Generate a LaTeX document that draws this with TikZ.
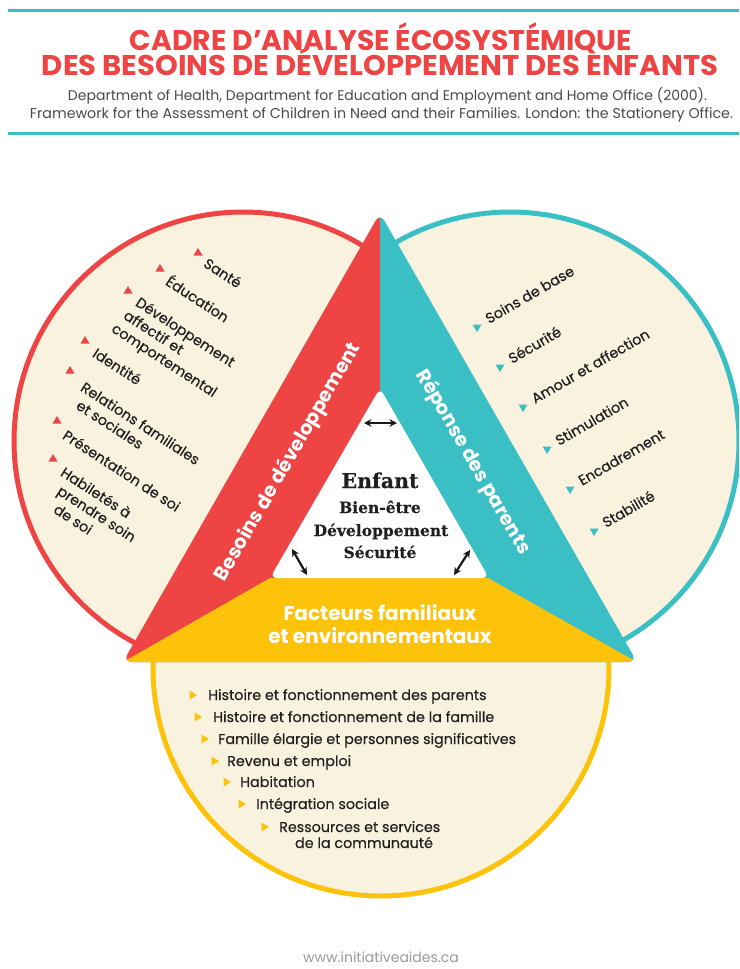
\documentclass[tikz,border=0pt]{standalone}
\usepackage{fontspec}
\setmainfont{Poppins}
\newfontfamily\slab{DejaVu Serif}[BoldFeatures={FakeBold=0.4}]
\newfontfamily\itemfont{Poppins}[FakeBold=0.35]
\usetikzlibrary{arrows.meta}
\definecolor{cred}{HTML}{EE4444}
\definecolor{cteal}{HTML}{3ABFC5}
\definecolor{cyel}{HTML}{FDC20A}
\definecolor{ccream}{HTML}{F8F2DE}
\definecolor{ctext}{HTML}{231F20}
\definecolor{cgray}{HTML}{4A4A4A}
\definecolor{cfoot}{HTML}{9A9A9A}
\tikzset{
  bup/.pic={\fill[cred] (-4.5,3.5) -- (4.5,3.5) -- (0,-4) -- cycle;},
  bdown/.pic={\fill[cteal] (-4.5,-3.5) -- (4.5,-3.5) -- (0,4) -- cycle;},
  bright/.pic={\fill[cyel] (-3.5,-4.5) -- (-3.5,4.5) -- (4,0) -- cycle;},
  itemtxt/.style={font=\itemfont\fontsize{14.3}{17}\selectfont, text=ctext, anchor=base west, inner sep=0pt},
  litem/.style={itemtxt, rotate=-33},
  ritem/.style={itemtxt, rotate=30},
  bitem/.style={itemtxt},
  bandtxt/.style={font=\bfseries\fontsize{19.5}{24}\selectfont, text=white, inner sep=0pt, align=center},
  ctr/.style={font=\slab\bfseries\fontsize{15.5}{18}\selectfont, text=ctext, anchor=base, inner sep=0pt},
  dbl/.style={{Stealth[length=7.5pt,width=7.5pt]}-{Stealth[length=7.5pt,width=7.5pt]}, line width=2.2pt, black!90}
}
\begin{document}
\begin{tikzpicture}[x=1pt,y=-1pt]
\useasboundingbox (0,0) rectangle (739,969);
\fill[white] (0,0) rectangle (739,969);
% header rules
\draw[cteal, line width=3pt] (8,10) -- (739,10);
\draw[cteal, line width=3pt] (8,133) -- (739,133);
% title
\node[anchor=base, inner sep=0pt, text=cred] (t1) at (381,50) {\resizebox{502pt}{20pt}{\bfseries\smash{CADRE D’ANALYSE ÉCOSYSTÉMIQUE}\vphantom{A}}};
\node[anchor=base, inner sep=0pt, text=cred] (t2) at (380,75) {\resizebox{676pt}{20pt}{\bfseries\smash{DES BESOINS DE DÉVELOPPEMENT DES ENFANTS}\vphantom{A}}};
\node[anchor=base, inner sep=0pt, text=cgray] (s1) at (387.5,100) {\resizebox{639pt}{!}{\fontsize{13}{15}\selectfont Department of Health, Department for Education and Employment and Home Office (2000).}};
\node[anchor=base, inner sep=0pt, text=cgray] (s2) at (381.5,118) {\resizebox{703pt}{!}{\fontsize{13}{15}\selectfont Framework for the Assessment of Children in Need and their Families. London: the Stationery Office.}};
% circles
\begin{scope}
  \clip (0,150) rectangle (380,700);
  \draw[cred, fill=ccream, line width=5pt] (243,441) circle[radius=229pt];
\end{scope}
\begin{scope}
  \clip (380,150) rectangle (739,700);
  \draw[cteal, fill=ccream, line width=5pt] (510,441) circle[radius=229pt];
\end{scope}
\begin{scope}
  \clip (0,662) rectangle (739,969);
  \draw[cyel, fill=ccream, line width=5pt] (381,668) circle[radius=228pt];
\end{scope}
% big triangle
\begin{scope}
  \clip[rounded corners=9pt] (380,213) -- (637,662) -- (123,662) -- cycle;
  \fill[cred] (0,150) rectangle (380,720);
  \fill[cteal] (380,150) rectangle (800,720);
  \fill[cyel] (270,578) -- (488,578) -- (720,709) -- (41,709) -- cycle;
\end{scope}
\fill[white, rounded corners=7pt] (380,388) -- (489,578) -- (270,578) -- cycle;
% centre
\node[ctr, font=\slab\bfseries\fontsize{20.5}{22}\selectfont] (enf) at (380,488) {Enfant};
\node[ctr] (c1) at (380,513) {Bien-être};
\node[ctr] (c2) at (381,536) {Développement};
\node[ctr] (c3) at (380,558) {Sécurité};
\coordinate (a1) at (364,423); \coordinate (a2) at (397,423);
\coordinate (a3) at (292,549); \coordinate (a4) at (307,575);
\coordinate (a5) at (470,550); \coordinate (a6) at (454,575);
\draw[dbl] (a1) -- (a2);
\draw[dbl] (a3) -- (a4);
\draw[dbl] (a5) -- (a6);
% band labels
\node[bandtxt, rotate=60] (bes) at (288,462) {Besoins de développement};
\node[bandtxt, rotate=-60] (rep) at (473,462) {Réponse des parents};
\node[bandtxt, font=\bfseries\fontsize{20}{23}\selectfont] (fac) at (380,624) {Facteurs familiaux\\et environnementaux};
% left items
\pic at (198,252) {bup}; \node[litem] (l1) at (202.5,266) {Santé};
\pic at (160,268) {bup}; \node[litem] (l2) at (164.5,284) {Éducation};
\pic at (128,290) {bup}; \node[litem] (l3a) at (134.5,305) {Développement};
\node[litem] (l3b) at (122.5,318) {affectif et};
\node[litem] (l3c) at (110.5,331) {comportemental};
\pic at (85,340) {bup}; \node[litem] (l4) at (91.5,356) {Identité};
\pic at (70,370) {bup}; \node[litem] (l5a) at (79.5,390) {Relations familiales};
\node[litem] (l5b) at (75,408) {et sociales};
\pic at (57,420) {bup}; \node[litem] (l6) at (61.5,438) {Présentation de soi};
\pic at (53,458) {bup}; \node[litem] (l7a) at (59.5,475) {Habiletés à};
\node[litem] (l7b) at (56,493.5) {prendre soin};
\node[litem] (l7c) at (52.5,512) {de soi};
% right items
\pic at (477,328) {bdown}; \node[ritem] (r1) at (489,324) {Soins de base};
\pic at (500,368) {bdown}; \node[ritem] (r2) at (512,364) {Sécurité};
\pic at (523,408) {bdown}; \node[ritem] (r3) at (535,404) {Amour et affection};
\pic at (547,450) {bdown}; \node[ritem] (r4) at (559,446) {Stimulation};
\pic at (570,490) {bdown}; \node[ritem] (r5) at (582,486) {Encadrement};
\pic at (594,532) {bdown}; \node[ritem] (r6) at (606,528) {Stabilité};
% bottom items
\pic at (193,695) {bright}; \node[bitem] (b1) at (208,700) {Histoire et fonctionnement des parents};
\pic at (198,717) {bright}; \node[bitem] (b2) at (213,722) {Histoire et fonctionnement de la famille};
\pic at (205,739) {bright}; \node[bitem] (b3) at (218,744) {Famille élargie et personnes significatives};
\pic at (215,761) {bright}; \node[bitem] (b4) at (227,766) {Revenu et emploi};
\pic at (227,782) {bright}; \node[bitem] (b5) at (240,787) {Habitation};
\pic at (242,804) {bright}; \node[bitem] (b6) at (256,809) {Intégration sociale};
\pic at (265,827) {bright}; \node[bitem] (b7) at (279,832) {Ressources et services};
\node[bitem, anchor=base] (b8) at (364,848) {de la communauté};
% footer
\node[inner sep=0pt, font=\fontsize{14}{16}\selectfont, text=cfoot] (ft) at (381,957) {www.initiativeaides.ca};
\end{tikzpicture}
\end{document}
